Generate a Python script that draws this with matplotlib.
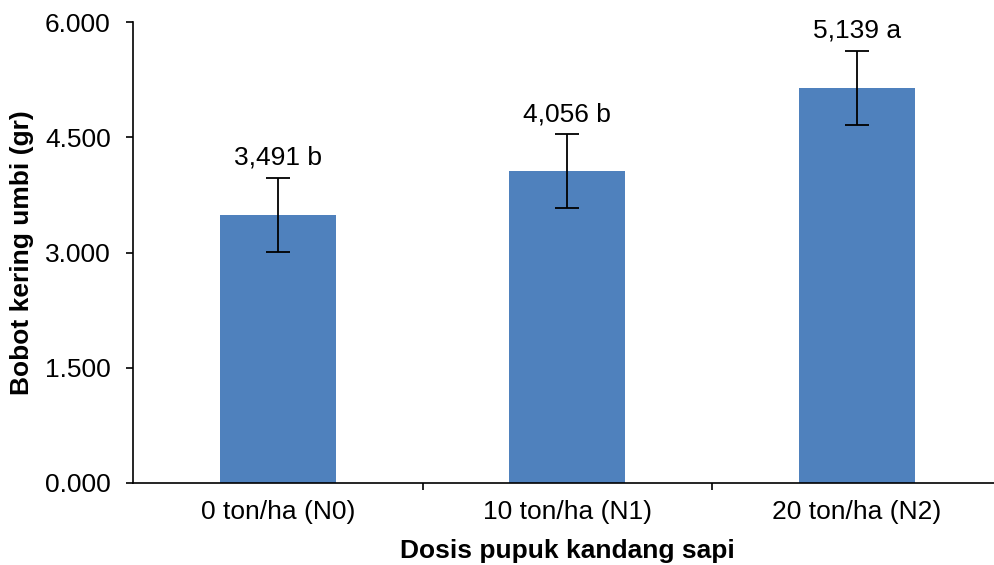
import matplotlib.pyplot as plt
from matplotlib.ticker import FuncFormatter

plt.rcParams['font.family'] = ['Liberation Sans', 'DejaVu Sans']

categories = ['0 ton/ha (N0)', '10 ton/ha (N1)', '20 ton/ha (N2)']
bobot = [3.491, 4.056, 5.139]
galat = [0.48, 0.48, 0.48]
notasi = ['b', 'b', 'a']
yticks = [0.0, 1.5, 3.0, 4.5, 6.0]

fig = plt.figure(figsize=(9.94, 5.65), dpi=100)
ax = fig.add_axes([133 / 994, 82 / 565, (994 - 133) / 994, 461 / 565])

x = range(len(categories))
ax.bar(x, bobot, width=0.4, color='#4F81BD', zorder=2)
ax.errorbar(x, bobot, yerr=galat, fmt='none', ecolor='black',
            elinewidth=1.3, capsize=8.5, capthick=1.3, zorder=3)

for i in x:
    label = f"{bobot[i]:.3f}".replace('.', ',') + ' ' + notasi[i]
    ax.annotate(label, (i, bobot[i] + galat[i]), xytext=(0, 6),
                textcoords='offset points', ha='center', va='bottom',
                fontsize=19)

ax.set_ylim(0, 6)
ax.set_yticks(yticks)
ax.yaxis.set_major_formatter(FuncFormatter(lambda v, p: f"{v:.3f}"))
ax.set_xlim(-0.5, -0.5 + (994 - 133) / 289.5)
ax.set_xticks([0.5, 1.5])
ax.set_xticklabels([])
ax.set_xticks(list(x), minor=True)
ax.set_xticklabels(categories, minor=True, fontsize=19)
ax.tick_params(axis='x', which='minor', length=0, pad=12)
ax.tick_params(axis='x', which='major', length=5, width=1.2, direction='out')
ax.tick_params(axis='y', length=5, width=1.2, labelsize=19, pad=11)

for side in ['top', 'right']:
    ax.spines[side].set_visible(False)
for side in ['left', 'bottom']:
    ax.spines[side].set_linewidth(1.2)

ax.set_ylabel('Bobot kering umbi (gr)', fontsize=19, fontweight='bold')
ax.set_xlabel('Dosis pupuk kandang sapi', fontsize=19, fontweight='bold')
ax.yaxis.set_label_coords(-0.115, 0.5)
ax.xaxis.set_label_coords(0.504, -0.122)

fig.savefig('out.png', dpi=100)
